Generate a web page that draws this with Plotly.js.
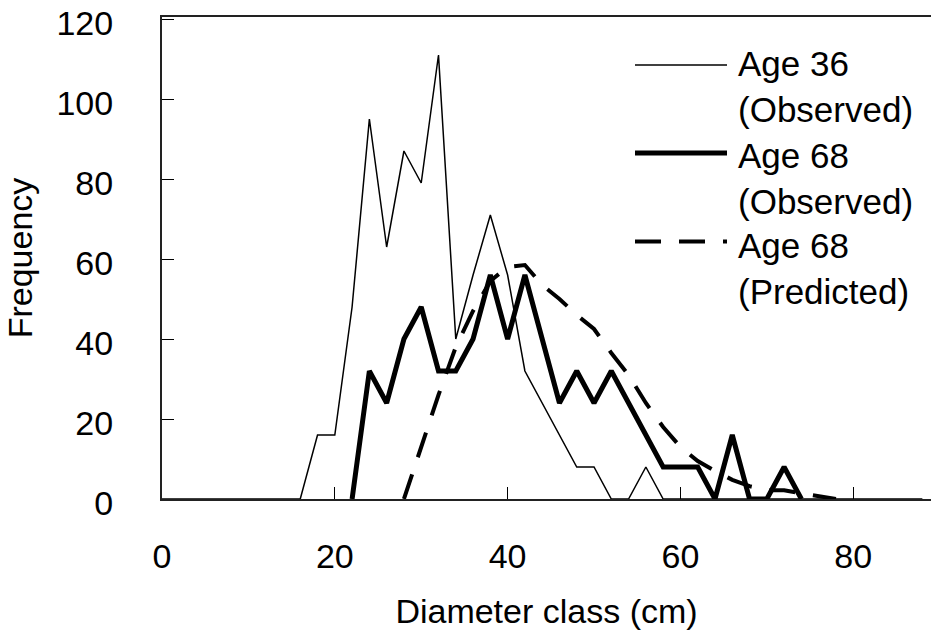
<!DOCTYPE html>
<html>
<head>
<meta charset="utf-8">
<script src="https://cdn.plot.ly/plotly-3.0.1.min.js"></script>
<style>
html, body { margin: 0; padding: 0; background: #fff; }
#chart { width: 931px; height: 632px; }
</style>
</head>
<body>
<div id="chart"></div>
<script>
// Diameter classes (cm)
const classesAge36 = [0,2,4,6,8,10,12,14,16,18,20,22,24,26,28,30,32,34,36,38,40,42,44,46,48,50,52,54,56,58,60,62,64,66,68,70,72,74,76,78,80,82,84,86,88];
const freqAge36Obs = [0,0,0,0,0,0,0,0,0,16,16,48,95,63,87,79,111,40,56,71,56,32,24,16,8,8,0,0,8,0,0,0,0,0,0,0,0,0,0,0,0,0,0,0,0];

const classesAge68Obs = [22,24,26,28,30,32,34,36,38,40,42,44,46,48,50,52,54,56,58,60,62,64,66,68,70,72,74];
const freqAge68Obs = [0,32,24,40,48,32,32,40,56,40,56,40,24,32,24,32,24,16,8,8,8,0,16,0,0,8,0];

const classesAge68Pred = [28,30,32,34,36,38,40,42,44,46,48,50,52,54,56,58,60,62,64,66,68,70,72,74,76,78];
const freqAge68Pred = [0,13,26,38,47,54.5,58,58.5,53.5,50,46,42.5,36.5,31,24,18,13,9.5,7,4.8,3.2,2.2,2.2,1.4,0.8,0];

const legendLabels = ["Age 36<br>(Observed)", "Age 68<br>(Observed)", "Age 68<br>(Predicted)"];
const xTicks = [0,20,40,60,80];
const yTicks = [0,20,40,60,80,100,120];

const FONT = '"Liberation Sans", Arial, sans-serif';
const FS = 34;

const styles = [
  {width: 1.5, dash: 'solid'},
  {width: 5, dash: 'solid'},
  {width: 4, dash: '26px,18px'}
];

const traces = [
  {x: classesAge36, y: freqAge36Obs, name: legendLabels[0], mode: 'lines', line: {color: '#000', width: styles[0].width, dash: styles[0].dash}},
  {x: classesAge68Obs, y: freqAge68Obs, name: legendLabels[1], mode: 'lines', line: {color: '#000', width: styles[1].width, dash: styles[1].dash}},
  {x: classesAge68Pred, y: freqAge68Pred, name: legendLabels[2], mode: 'lines', line: {color: '#000', width: styles[2].width, dash: styles[2].dash}}
];

// custom legend (long sample lines), in paper coordinates
const L = 162, T = 17, W = 769, H = 482;
const px = v => (v - L) / W;
const py = v => (T + H - v) / H;
const legendRowsY = [65, 153, 241.5];
const legendTextY = [86.5, 178, 268];
const shapes = legendRowsY.map((yy, i) => ({
  type: 'line', xref: 'paper', yref: 'paper',
  x0: px(635), x1: px(727), y0: py(yy), y1: py(yy),
  line: {color: '#000', width: styles[i].width, dash: styles[i].dash}
}));
const annotations = legendTextY.map((yy, i) => ({
  xref: 'paper', yref: 'paper', x: px(736), y: py(yy),
  xanchor: 'left', yanchor: 'middle', align: 'left', showarrow: false,
  text: legendLabels[i], font: {family: FONT, size: 35, color: '#000'}
}));

const layout = {
  width: 931, height: 632,
  margin: {l: L, r: 0, t: T, b: 632 - T - H},
  paper_bgcolor: '#fff', plot_bgcolor: '#fff',
  showlegend: false,
  font: {family: FONT, size: FS, color: '#000'},
  xaxis: {
    range: [0, 89], tickvals: xTicks, ticktext: xTicks.map(String),
    ticks: 'inside', ticklen: 12, tickwidth: 1, tickcolor: '#000',
    showline: true, linecolor: '#222', linewidth: 2, mirror: true,
    showgrid: false, zeroline: false,
    ticklabelstandoff: 26, ticklabeloverflow: 'allow',
    tickfont: {family: FONT, size: FS, color: '#000'},
    title: {text: 'Diameter class (cm)', font: {family: FONT, size: FS, color: '#000'}, standoff: 25}
  },
  yaxis: {
    range: [0, 120.5], tickvals: yTicks, ticktext: yTicks.map(String),
    ticks: 'inside', ticklen: 12, tickwidth: 1, tickcolor: '#000',
    showline: true, linecolor: '#222', linewidth: 2, mirror: false,
    showgrid: false, zeroline: false,
    ticklabelstandoff: 40, ticklabeloverflow: 'allow', ticklabelshift: 4,
    tickfont: {family: FONT, size: FS, color: '#000'},
    title: {text: 'Frequency', font: {family: FONT, size: FS, color: '#000'}, standoff: 14}
  },
  shapes: shapes,
  annotations: annotations
};

Plotly.newPlot('chart', traces, layout, {displayModeBar: false, staticPlot: true});
</script>
</body>
</html>
